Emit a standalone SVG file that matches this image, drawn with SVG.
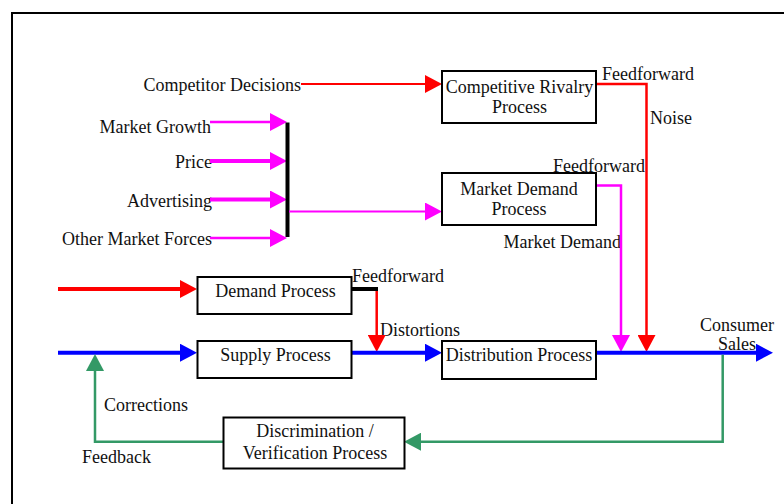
<svg xmlns="http://www.w3.org/2000/svg" width="784" height="504" viewBox="0 0 784 504">
<style>
text{font-family:"Liberation Serif","Times New Roman",serif;font-size:18px;fill:#111}
.box{fill:#fff;stroke:#000;stroke-width:2}
.c{text-anchor:middle}
.e{text-anchor:end}
.ln{fill:none}
</style>
<defs>
<marker id="aR" viewBox="0 0 17 18" refX="10" refY="9" markerWidth="17" markerHeight="18" orient="auto" markerUnits="userSpaceOnUse"><path d="M0,0 L17,9 L0,18 z" fill="#ff0000"/></marker>
<marker id="aM" viewBox="0 0 17 18" refX="10" refY="9" markerWidth="17" markerHeight="18" orient="auto" markerUnits="userSpaceOnUse"><path d="M0,0 L17,9 L0,18 z" fill="#ff00ff"/></marker>
<marker id="aB" viewBox="0 0 17 18" refX="10" refY="9" markerWidth="17" markerHeight="18" orient="auto" markerUnits="userSpaceOnUse"><path d="M0,0 L17,9 L0,18 z" fill="#0000ff"/></marker>
<marker id="aG" viewBox="0 0 17 18" refX="10" refY="9" markerWidth="17" markerHeight="18" orient="auto" markerUnits="userSpaceOnUse"><path d="M0,0 L17,9 L0,18 z" fill="#339966"/></marker>
</defs>
<rect x="0" y="0" width="784" height="504" fill="#fff"/>
<rect x="12" y="13" width="800" height="600" fill="none" stroke="#000" stroke-width="2"/>

<g id="labels">
<text class="e" x="301" y="91">Competitor Decisions</text>
<text class="e" x="211" y="133">Market Growth</text>
<text class="e" x="212" y="168">Price</text>
<text class="e" x="212" y="207">Advertising</text>
<text class="e" x="212" y="245">Other Market Forces</text>
<text x="602" y="80">Feedforward</text>
<text x="650" y="124">Noise</text>
<text x="553" y="172">Feedforward</text>
<text class="e" x="621" y="248">Market Demand</text>
<text x="352" y="282">Feedforward</text>
<text x="380" y="336">Distortions</text>
<text class="c" x="737" y="331">Consumer</text>
<text class="c" x="737" y="350">Sales</text>
<text x="104" y="411">Corrections</text>
<text x="82" y="463">Feedback</text>
</g>

<g id="connectors">
<line class="ln" x1="301" y1="84" x2="435" y2="84" stroke="#ff0000" stroke-width="2" marker-end="url(#aR)"/>
<line class="ln" x1="210" y1="122" x2="280" y2="122" stroke="#ff00ff" stroke-width="2.5" marker-end="url(#aM)"/>
<line class="ln" x1="210" y1="161" x2="280" y2="161" stroke="#ff00ff" stroke-width="4" marker-end="url(#aM)"/>
<line class="ln" x1="210" y1="199.5" x2="280" y2="199.5" stroke="#ff00ff" stroke-width="4" marker-end="url(#aM)"/>
<line class="ln" x1="210" y1="238" x2="280" y2="238" stroke="#ff00ff" stroke-width="2.5" marker-end="url(#aM)"/>
<line class="ln" x1="287.5" y1="122.5" x2="287.5" y2="237" stroke="#000" stroke-width="4"/>
<line class="ln" x1="289" y1="211.5" x2="435" y2="211.5" stroke="#ff00ff" stroke-width="2" marker-end="url(#aM)"/>
<polyline class="ln" points="596,84 646.5,84 646.5,345" stroke="#ff0000" stroke-width="2.5" marker-end="url(#aR)"/>
<polyline class="ln" points="596,185.5 621,185.5 621,345" stroke="#ff00ff" stroke-width="2.5" marker-end="url(#aM)"/>
<line class="ln" x1="58" y1="289" x2="190" y2="289" stroke="#ff0000" stroke-width="4" marker-end="url(#aR)"/>
<line class="ln" x1="352" y1="289" x2="378" y2="289" stroke="#000" stroke-width="4"/>
<line class="ln" x1="376.7" y1="291" x2="376.7" y2="345" stroke="#ff0000" stroke-width="2.5" marker-end="url(#aR)"/>
<line class="ln" x1="58" y1="352.7" x2="190" y2="352.7" stroke="#0000ff" stroke-width="4" marker-end="url(#aB)"/>
<line class="ln" x1="352" y1="352.7" x2="435" y2="352.7" stroke="#0000ff" stroke-width="4" marker-end="url(#aB)"/>
<line class="ln" x1="596" y1="352.7" x2="766" y2="352.7" stroke="#0000ff" stroke-width="4" marker-end="url(#aB)"/>
<polyline class="ln" points="722.7,354.7 722.7,441.7 411,441.7" stroke="#339966" stroke-width="2.5" marker-end="url(#aG)"/>
<polyline class="ln" points="223,441.7 95,441.7 95,361" stroke="#339966" stroke-width="2.5" marker-end="url(#aG)"/>
</g>

<g id="rivalry">
<rect class="box" x="442" y="71" width="154" height="52"/>
<text class="c" x="519.5" y="93">Competitive Rivalry</text>
<text class="c" x="519.5" y="113">Process</text>
</g>
<g id="marketDemand">
<rect class="box" x="442" y="173" width="154" height="52"/>
<text class="c" x="519" y="195">Market Demand</text>
<text class="c" x="519" y="215">Process</text>
</g>
<g id="demand">
<rect class="box" x="197.5" y="277" width="154" height="37"/>
<text class="c" x="275.5" y="297">Demand Process</text>
</g>
<g id="supply">
<rect class="box" x="197.5" y="341" width="154" height="37"/>
<text class="c" x="275.5" y="361">Supply Process</text>
</g>
<g id="distribution">
<rect class="box" x="442" y="341" width="154" height="38"/>
<text class="c" x="519" y="361">Distribution Process</text>
</g>
<g id="discrimination">
<rect class="box" x="223.5" y="417.5" width="181" height="51"/>
<text class="c" x="315" y="437">Discrimination /</text>
<text class="c" x="315" y="459">Verification Process</text>
</g>
</svg>
